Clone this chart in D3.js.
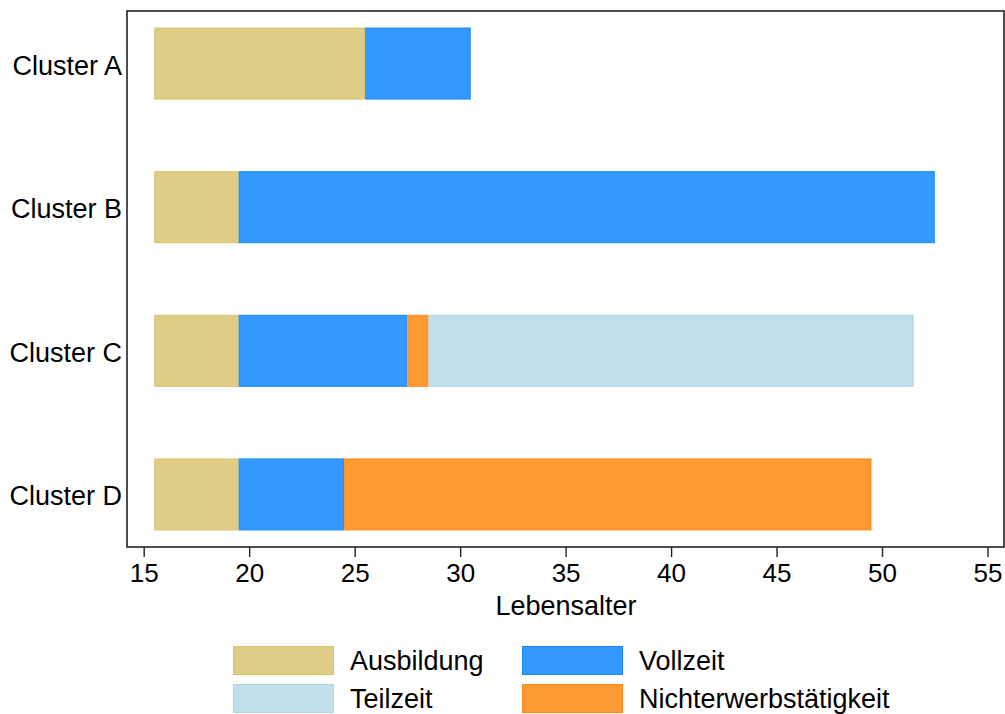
<!DOCTYPE html>
<html><head><meta charset="utf-8">
<script src="https://cdn.jsdelivr.net/npm/d3@7"></script>
<style>body{margin:0;background:#fff}svg{display:block}text{font-family:"Liberation Sans",Arial,sans-serif;fill:#000}</style>
</head><body><svg id="c" width="1005" height="714"></svg>
<script>
const clusters = ["Cluster A","Cluster B","Cluster C","Cluster D"];
const states = ["Ausbildung","Vollzeit","Teilzeit","Nichterwerbstätigkeit"];
const fills = ["#E0CD85","#3399FF","#BFE0E9","#FF9933"];
const strokes = ["#D8C46C","#1A88F5","#B0D6E2","#FF8A1A"];
// segments: [cluster, state, start age, end age]
const segCluster = ["Cluster A","Cluster A","Cluster B","Cluster B","Cluster C","Cluster C","Cluster C","Cluster C","Cluster D","Cluster D","Cluster D"];
const segState = ["Ausbildung","Vollzeit","Ausbildung","Vollzeit","Ausbildung","Vollzeit","Nichterwerbstätigkeit","Teilzeit","Ausbildung","Vollzeit","Nichterwerbstätigkeit"];
const segStart = [15.5,25.5,15.5,19.5,15.5,19.5,27.5,28.5,15.5,19.5,24.5];
const segEnd = [25.5,30.5,19.5,52.5,19.5,27.5,28.5,51.5,19.5,24.5,49.5];
const xTicks = [15,20,25,30,35,40,45,50,55];

const svg = d3.select("#c");
const L=127, R=1004, T=11, B=547;
const x = d3.scaleLinear().domain([15,55]).range([143.7,987.5]);
const y = d3.scalePoint().domain(clusters).range([T,B]).padding(0.366);
const color = d3.scaleOrdinal().domain(states).range(fills);
const scolor = d3.scaleOrdinal().domain(states).range(strokes);
const bh = 72;

const segs = segCluster.map((c,i)=>({c, s:segState[i], a:segStart[i], b:segEnd[i]}));
svg.append("g").selectAll("rect").data(segs).join("rect")
  .attr("x", d=>x(d.a)+0.5).attr("width", d=>x(d.b)-x(d.a)-1)
  .attr("y", d=>y(d.c)-bh/2+0.5).attr("height", bh-1)
  .attr("fill", d=>color(d.s)).attr("stroke", d=>scolor(d.s)).attr("stroke-width",1);

// frame
svg.append("rect").attr("x",L).attr("y",T).attr("width",R-L).attr("height",B-T)
  .attr("fill","none").attr("stroke","#222").attr("stroke-width",1.6);

// x axis
const xa = svg.append("g").attr("transform",`translate(0,${B})`)
  .call(d3.axisBottom(x).tickValues(xTicks).tickSize(10).tickSizeOuter(0).tickPadding(6));
xa.select(".domain").remove();
xa.selectAll("line").attr("stroke","#222").attr("stroke-width",1.4);
xa.selectAll("text").style("font-size","26px").attr("fill","#000").attr("dy","0.71em").attr("y",17);

// y labels
svg.append("g").selectAll("text").data(clusters).join("text")
  .attr("x",122).attr("y",d=>y(d)+2).attr("text-anchor","end").attr("dominant-baseline","central")
  .style("font-size","27px").text(d=>d);

svg.append("text").attr("x",566).attr("y",615).attr("text-anchor","middle").style("font-size","27px").text("Lebensalter");

// legend
const lx=[233,522], ly=[646,684];
const lg = svg.append("g").selectAll("g").data(states).join("g")
  .attr("transform",(d,i)=>`translate(${lx[i%2]},${ly[Math.floor(i/2)]})`);
lg.append("rect").attr("x",0.5).attr("y",0.5).attr("width",100).attr("height",28)
  .attr("fill",d=>color(d)).attr("stroke",d=>scolor(d));
lg.append("text").attr("x",117).attr("y",24).style("font-size","27px").text(d=>d);
</script></body></html>
